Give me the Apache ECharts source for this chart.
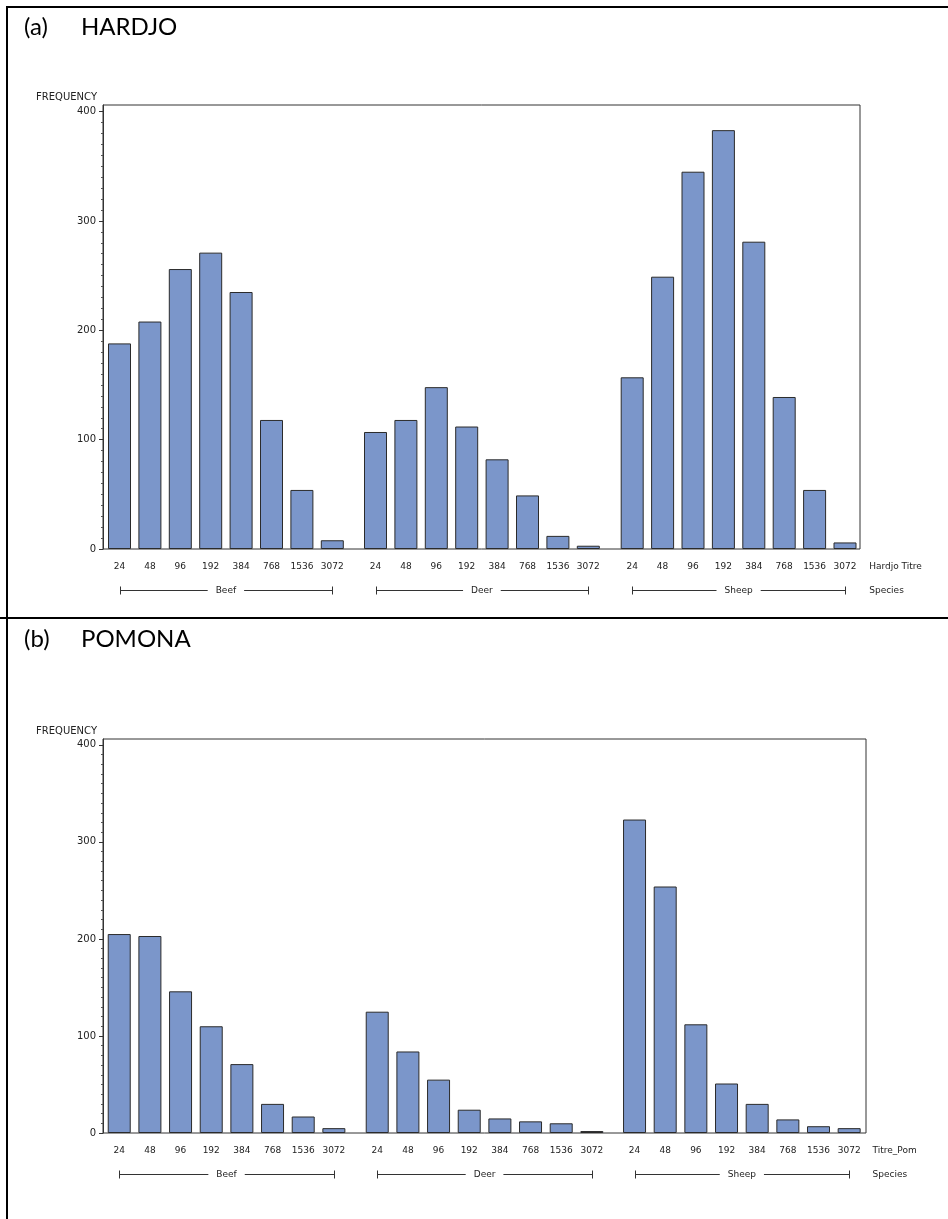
<!DOCTYPE html>
<html>
<head>
<meta charset="utf-8">
<script src="https://cdn.jsdelivr.net/npm/echarts@6/dist/echarts.min.js"></script>
<style>
  html, body { margin: 0; padding: 0; background: #fff; }
  #chart { width: 948px; height: 1219px; }
</style>
</head>
<body>
<div id="chart"></div>
<script>
// Titre categories along each species group
const titres = ['24', '48', '96', '192', '384', '768', '1536', '3072'];
const species = ['Beef', 'Deer', 'Sheep'];

// Hardjo frequencies per species
const hardjoBeef  = [188, 208, 256, 271, 235, 118, 54, 8];
const hardjoDeer  = [107, 118, 148, 112, 82, 49, 12, 3];
const hardjoSheep = [157, 249, 345, 383, 281, 139, 54, 6];

// Pomona frequencies per species
const pomonaBeef  = [205, 203, 146, 110, 71, 30, 17, 5];
const pomonaDeer  = [125, 84, 55, 24, 15, 12, 10, 2];
const pomonaSheep = [323, 254, 112, 51, 30, 14, 7, 5];

// Frequency axis
const yTicks = [0, 100, 200, 300, 400];
const Y_MAX = 406;
const yMinorTicks = [];
for (let v = 10; v < 400; v += 10) { if (v % 100 !== 0) yMinorTicks.push(v); }

const TXT = '#222';
const LINE = '#333';
const FONT = 'DejaVu Sans';

const panels = [
  {
    tag: '(a)', name: 'HARDJO', titleTop: 10, xName: 'Hardjo Titre',
    data: [hardjoBeef, hardjoDeer, hardjoSheep],
    frame: { left: 103, top: 105, width: 757, height: 444 },
    groupLeft: [104.3, 360.3, 617], groupWidth: 243.2, nameGap: 9
  },
  {
    tag: '(b)', name: 'POMONA', titleTop: 622, xName: 'Titre_Pom',
    data: [pomonaBeef, pomonaDeer, pomonaSheep],
    frame: { left: 103, top: 739, width: 763, height: 394 },
    groupLeft: [103.9, 361.9, 619.2], groupWidth: 245.3, nameGap: 8
  }
];

const grid = [], xAxis = [], yAxis = [], series = [], title = [];
const speciesAxis = []; // [panel][species] -> xAxisIndex
const freqAxis = [];    // [panel] -> yAxisIndex of the frequency axis

panels.forEach((p, pi) => {
  const titleStyle = { fontFamily: 'Lato', fontSize: 24, fontWeight: 'normal', color: '#000' };
  title.push({ text: p.tag, left: 19, top: p.titleTop, textStyle: titleStyle });
  title.push({ text: p.name, left: 76, top: p.titleTop, textStyle: titleStyle });

  // frame grid carrying the frequency axis and the plot border
  const g0 = grid.length;
  grid.push(Object.assign({ show: true, borderColor: LINE, borderWidth: 1,
    backgroundColor: 'transparent', containLabel: false, outerBoundsMode: 'none' }, p.frame));
  xAxis.push({ type: 'value', gridIndex: g0, show: false, min: 0, max: 1 });
  freqAxis.push(yAxis.length);
  yAxis.push({
    type: 'value', gridIndex: g0, position: 'left', min: 0, max: Y_MAX,
    name: 'FREQUENCY', nameLocation: 'end', nameGap: 3,
    nameTextStyle: { fontFamily: FONT, fontSize: 10, color: TXT, align: 'right',
      verticalAlign: 'bottom', padding: [0, 6, 0, 0] },
    axisLine: { show: true, lineStyle: { color: LINE, width: 1 } },
    axisTick: { show: true, length: 4, customValues: yTicks, lineStyle: { color: LINE } },
    axisLabel: { show: true, customValues: yTicks, margin: 7,
      fontFamily: FONT, fontSize: 10, color: TXT },
    splitLine: { show: false }
  });
  // minor ticks every 10
  yAxis.push({
    type: 'value', gridIndex: g0, position: 'left', offset: 0, min: 0, max: Y_MAX,
    axisLine: { show: false },
    axisTick: { show: true, length: 2, customValues: yMinorTicks, lineStyle: { color: '#555' } },
    axisLabel: { show: false },
    splitLine: { show: false }
  });

  speciesAxis.push([]);
  species.forEach((s, si) => {
    const gi = grid.length;
    grid.push({ left: p.groupLeft[si], width: p.groupWidth, top: p.frame.top,
      height: p.frame.height, containLabel: false, outerBoundsMode: 'none' });
    const xi = xAxis.length;
    speciesAxis[pi].push(xi);
    const last = si === species.length - 1;
    xAxis.push({
      type: 'category', gridIndex: gi, data: titres,
      axisLine: { show: false }, axisTick: { show: false },
      axisLabel: { interval: 0, margin: 13, fontFamily: FONT, fontSize: 9, color: TXT },
      name: last ? p.xName : '', nameLocation: 'end', nameGap: p.nameGap,
      nameTextStyle: { fontFamily: FONT, fontSize: 9, color: TXT, align: 'left',
        verticalAlign: 'top', padding: [13, 0, 0, 0] }
    });
    const yi = yAxis.length;
    yAxis.push({ type: 'value', gridIndex: gi, min: 0, max: Y_MAX, show: false });
    series.push({
      type: 'bar', name: p.name + ' ' + s, xAxisIndex: xi, yAxisIndex: yi,
      data: p.data[si], barWidth: 23, animation: false,
      itemStyle: { color: '#7B96CA', borderColor: '#2b2b2b', borderWidth: 1 }
    });
  });
});

const chart = echarts.init(document.getElementById('chart'), null, { renderer: 'canvas' });
chart.setOption({ animation: false, backgroundColor: '#fff', title, grid, xAxis, yAxis, series });

// Table rules around the two panels
const graphic = [
  { type: 'line', shape: { x1: 6, y1: 7, x2: 948, y2: 7 }, style: { stroke: '#000', lineWidth: 2 } },
  { type: 'line', shape: { x1: 7, y1: 6, x2: 7, y2: 1219 }, style: { stroke: '#000', lineWidth: 2 } },
  { type: 'line', shape: { x1: 0, y1: 618, x2: 948, y2: 618 }, style: { stroke: '#000', lineWidth: 2 } }
];

// Species brackets below the titre labels, spanning first to last bar of each group
panels.forEach((p, pi) => {
  const yBase = chart.convertToPixel({ yAxisIndex: freqAxis[pi] }, 0);
  const y = Math.round(yBase + 41) + 0.5;
  species.forEach((s, si) => {
    const xi = speciesAxis[pi][si];
    const x1 = chart.convertToPixel({ xAxisIndex: xi }, titres[0]);
    const x2 = chart.convertToPixel({ xAxisIndex: xi }, titres[titres.length - 1]);
    const xa = Math.round(x1) + 0.5, xb = Math.round(x2) + 0.5;
    graphic.push({ type: 'line', shape: { x1: xa, y1: y, x2: xb, y2: y }, style: { stroke: LINE, lineWidth: 1 } });
    graphic.push({ type: 'line', shape: { x1: xa, y1: y - 4, x2: xa, y2: y + 4 }, style: { stroke: LINE, lineWidth: 1 } });
    graphic.push({ type: 'line', shape: { x1: xb, y1: y - 4, x2: xb, y2: y + 4 }, style: { stroke: LINE, lineWidth: 1 } });
    graphic.push({ type: 'text', x: (x1 + x2) / 2, y: y, z: 10,
      style: { text: s, font: '9px "DejaVu Sans"', fill: TXT, align: 'center', verticalAlign: 'middle',
        backgroundColor: '#fff', padding: [1, 8, 1, 8] } });
  });
  const grpRight = p.groupLeft[2] + p.groupWidth;
  graphic.push({ type: 'text', x: grpRight + p.nameGap, y: y,
    style: { text: 'Species', font: '9px "DejaVu Sans"', fill: TXT, align: 'left', verticalAlign: 'middle' } });
});

chart.setOption({ graphic });
</script>
</body>
</html>
